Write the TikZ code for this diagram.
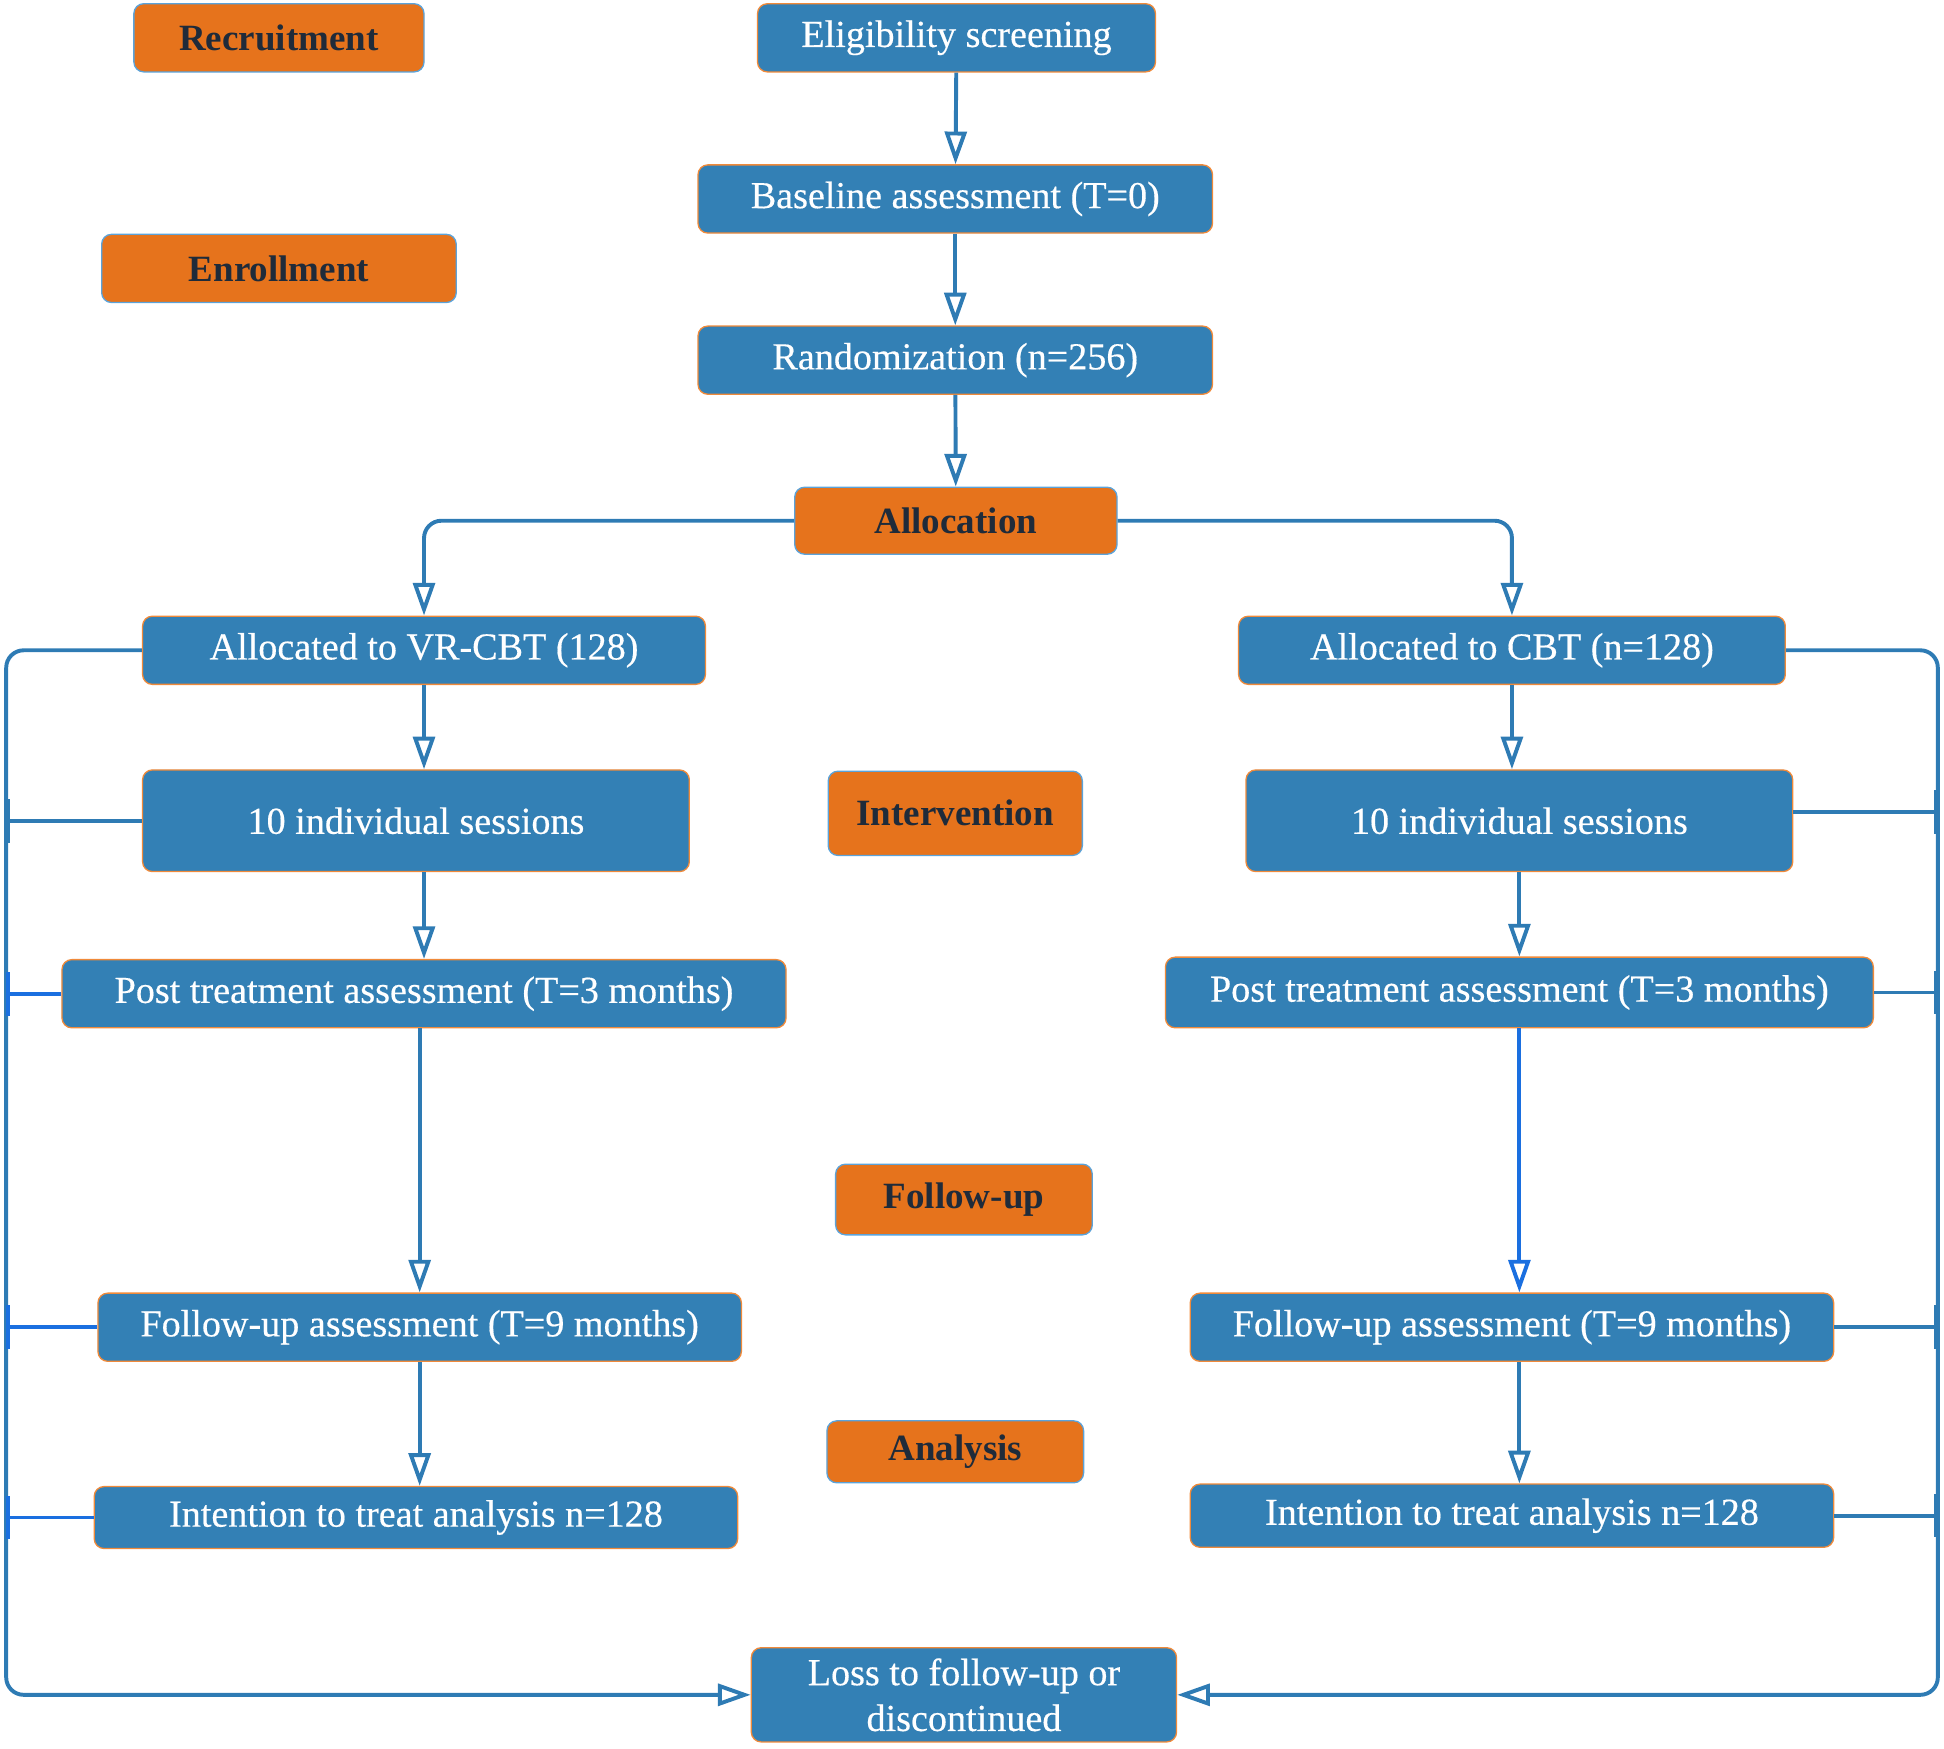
\documentclass[tikz,border=0pt]{standalone}
\usepackage{fontspec}
\setmainfont{Liberation Serif}
\newfontfamily\stagefont[FakeBold=0.4]{Liberation Serif}
\usetikzlibrary{arrows.meta}

\definecolor{boxblue}{HTML}{3380B5}
\definecolor{boxorange}{HTML}{E6731C}
\definecolor{edgeorange}{HTML}{F08A3A}
\definecolor{edgeblue}{HTML}{5BA3DA}
\definecolor{textnavy}{HTML}{1F2B3A}
\definecolor{lineblue}{HTML}{2E7BB4}
\definecolor{brightblue}{HTML}{1A6FE0}

\begin{document}
\begin{tikzpicture}[
    stage/.style={rectangle, draw=edgeorange, line width=0.6pt, fill=boxblue, text=white, rounded corners=4.5pt, align=center, inner sep=0pt, font=\stagefont\fontsize{17.5}{21}\selectfont},
    phase/.style={rectangle, draw=edgeblue, line width=0.6pt, fill=boxorange, text=textnavy, rounded corners=4.5pt, inner sep=0pt, font=\fontsize{17}{20}\selectfont\bfseries},
    flow/.style={-{Triangle[open, length=15pt, width=10pt]}, draw=lineblue, line width=1.8pt},
    branch/.style={-{Bar[width=20pt]}, draw=lineblue, line width=1.8pt}
]
\useasboundingbox (0,0) rectangle (31.36,-28.2);

% Phase labels
\node[phase, minimum width=4.68cm, minimum height=1.1cm] (recruit) at (4.5,-0.61) {Recruitment};
\node[phase, minimum width=5.72cm, minimum height=1.1cm] (enroll) at (4.5,-4.33) {Enrollment};
\node[phase, minimum width=5.2cm, minimum height=1.08cm] (alloc) at (15.42,-8.4) {Allocation};
\node[phase, minimum width=4.1cm, minimum height=1.36cm] (interv) at (15.41,-13.12) {Intervention};
\node[phase, minimum width=4.14cm, minimum height=1.14cm] (followup) at (15.55,-19.35) {Follow-up};
\node[phase, minimum width=4.14cm, minimum height=1.0cm] (analysis) at (15.41,-23.42) {Analysis};

% Screening and randomization
\node[stage, minimum width=6.42cm, minimum height=1.1cm] (elig) at (15.43,-0.61) {Eligibility screening};
\node[stage, minimum width=8.3cm, minimum height=1.1cm] (base) at (15.41,-3.21) {Baseline assessment (T=0)};
\node[stage, minimum width=8.3cm, minimum height=1.1cm] (random) at (15.41,-5.81) {Randomization (n=256)};

% VR-CBT arm
\node[stage, minimum width=9.08cm, minimum height=1.1cm] (vrcbt) at (6.84,-10.49) {Allocated to VR-CBT (128)};
\node[stage, minimum width=8.82cm, minimum height=1.64cm] (sessL) at (6.71,-13.24) {10 individual sessions};
\node[stage, minimum width=11.68cm, minimum height=1.1cm] (postL) at (6.84,-16.03) {Post treatment assessment (T=3 months)};
\node[stage, minimum width=10.38cm, minimum height=1.1cm] (fuL) at (6.77,-21.41) {Follow-up assessment (T=9 months)};
\node[stage, minimum width=10.38cm, minimum height=1.0cm] (ittL) at (6.71,-24.48) {Intention to treat analysis n=128};

% CBT arm
\node[stage, minimum width=8.82cm, minimum height=1.1cm] (cbt) at (24.39,-10.49) {Allocated to CBT (n=128)};
\node[stage, minimum width=8.82cm, minimum height=1.64cm] (sessR) at (24.51,-13.24) {10 individual sessions};
\node[stage, minimum width=11.42cm, minimum height=1.14cm] (postR) at (24.51,-16.01) {Post treatment assessment (T=3 months)};
\node[stage, minimum width=10.38cm, minimum height=1.1cm] (fuR) at (24.39,-21.41) {Follow-up assessment (T=9 months)};
\node[stage, minimum width=10.38cm, minimum height=1.02cm] (ittR) at (24.39,-24.45) {Intention to treat analysis n=128};

% Dropouts
\node[stage, minimum width=6.86cm, minimum height=1.52cm] (loss) at (15.55,-27.34) {Loss to follow-up or\\discontinued};

\coordinate (lrail) at (0.1,0);
\coordinate (rrail) at (31.26,0);

% Main flow
\draw[flow] (elig) -- (base);
\draw[flow] (base) -- (random);
\draw[flow] (random) -- (alloc);
\draw[flow, rounded corners=8pt] (alloc.west) -| (vrcbt.north);
\draw[flow, rounded corners=8pt] (alloc.east) -| (cbt.north);

\draw[flow] (vrcbt.south) -- (vrcbt.south |- sessL.north);
\draw[flow] (sessL.south -| vrcbt) -- (vrcbt |- postL.north);
\draw[flow] (postL.south -| fuL) -- (fuL.north);
\draw[flow] (fuL.south) -- (fuL.south |- ittL.north);

\draw[flow] (cbt.south) -- (cbt.south |- sessR.north);
\draw[flow] (sessR.south) -- (postR.north);
\draw[flow, draw=brightblue] (postR.south) -- (postR.south |- fuR.north);
\draw[flow] (fuR.south -| postR) -- (postR |- ittR.north);

% Losses
\draw[flow, rounded corners=8pt] (vrcbt.west) -- (vrcbt.west -| lrail) |- (loss.west);
\draw[flow, rounded corners=8pt] (cbt.east) -- (cbt.east -| rrail) |- (loss.east);
\draw[branch] (sessL.west) -- (sessL.west -| lrail);
\draw[branch, draw=brightblue] (postL.west) -- (postL.west -| lrail);
\draw[branch, draw=brightblue] (fuL.west) -- (fuL.west -| lrail);
\draw[branch, draw=brightblue] (ittL.west) -- (ittL.west -| lrail);
\draw[branch] ([yshift=0.14cm]sessR.east) -- ([yshift=0.14cm]sessR.east -| rrail);
\draw[branch] (postR.east) -- (postR.east -| rrail);
\draw[branch] (fuR.east) -- (fuR.east -| rrail);
\draw[branch] (ittR.east) -- (ittR.east -| rrail);

\end{tikzpicture}
\end{document}
